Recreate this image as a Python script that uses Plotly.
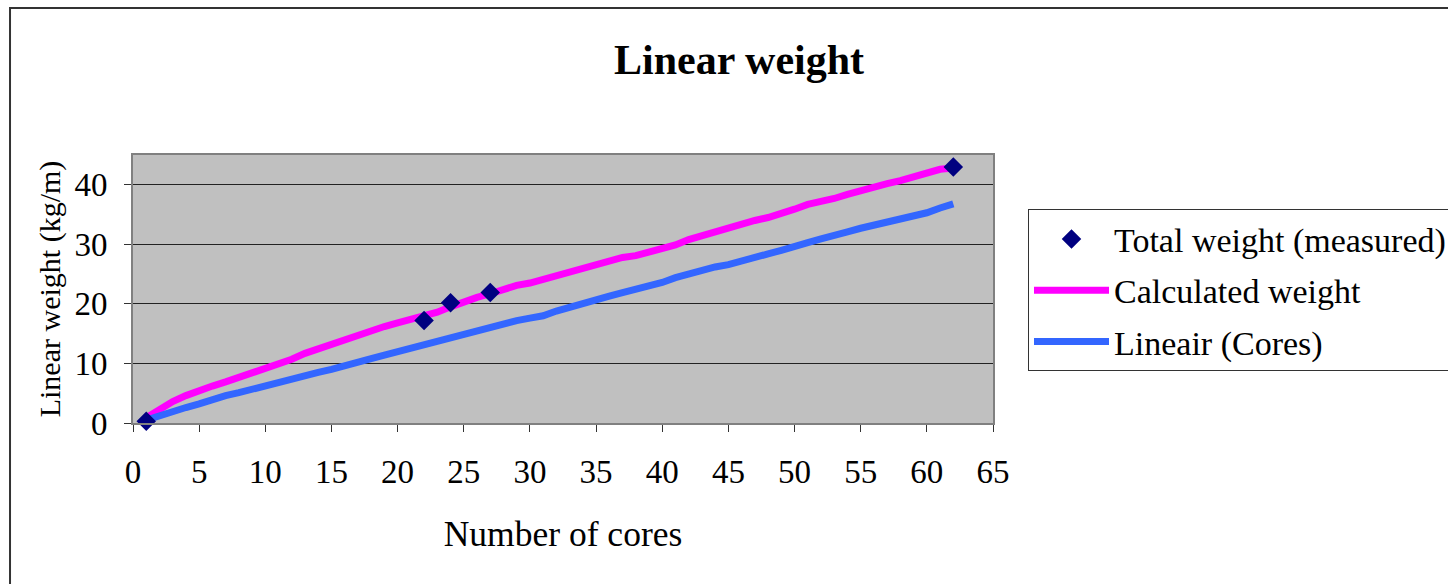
import plotly.graph_objects as go

# ---- data ----
cores = list(range(1, 63))
calculated_weight = [0.9, 2.3, 3.6, 4.6, 5.5, 6.2, 6.9, 7.6, 8.5, 9.3,
                     10.0, 10.7, 11.7, 12.5, 13.3, 14.0, 14.6, 15.5, 16.2, 16.8,
                     17.3, 17.8, 18.6, 19.5, 20.4, 21.1, 21.7, 22.5, 23.1, 23.5,
                     24.1, 24.9, 25.4, 26.1, 26.6, 27.4, 27.8, 28.1, 28.6, 29.2,
                     29.9, 30.8, 31.5, 32.0, 32.6, 33.3, 34.0, 34.5, 35.1, 35.9,
                     36.7, 37.1, 37.7, 38.4, 39.1, 39.6, 40.2, 40.7, 41.3, 42.0,
                     42.6, 42.8]
lineair_cores = [0.5, 1.3, 1.9, 2.6, 3.2, 4.0, 4.6, 5.1, 5.7, 6.1,
                 6.6, 7.5, 8.0, 8.5, 9.0, 9.5, 10.1, 10.8, 11.4, 12.0,
                 12.6, 13.1, 13.6, 14.2, 14.8, 15.5, 16.1, 16.7, 17.2, 17.6,
                 18.0, 18.8, 19.5, 20.0, 20.7, 21.3, 21.9, 22.4, 23.0, 23.6,
                 24.4, 25.1, 25.7, 26.2, 26.6, 27.1, 27.9, 28.4, 29.0, 29.8,
                 30.3, 30.9, 31.4, 32.1, 32.7, 33.2, 33.7, 34.2, 34.7, 35.3,
                 36.1, 36.8]
measured_cores = [1, 22, 24, 27, 62]
measured_weight = [0.3, 17.2, 20.2, 21.9, 43.0]

FONT = "Liberation Serif, Times New Roman, serif"

fig = go.Figure()
fig.add_trace(go.Scatter(
    x=cores, y=calculated_weight, mode="lines",
    name="Calculated weight", legendgroup="b", legendrank=2,
    line=dict(color="#FF00FF", width=7),
))
fig.add_trace(go.Scatter(
    x=cores, y=lineair_cores, mode="lines",
    name="Lineair (Cores)", legendgroup="c", legendrank=3,
    line=dict(color="#3366FF", width=7),
))
fig.add_trace(go.Scatter(
    x=measured_cores, y=measured_weight, mode="markers",
    name="Total weight (measured)", legendgroup="a", legendrank=1,
    marker=dict(symbol="diamond", size=15, color="#000080"),
    cliponaxis=False,
))

fig.update_layout(
    template="none",
    width=1448, height=584,
    margin=dict(l=133, r=455, t=155, b=161, autoexpand=False),
    paper_bgcolor="white",
    plot_bgcolor="#C0C0C0",
    font=dict(family=FONT, color="black", size=33),
    title=dict(text="<b>Linear weight</b>", font=dict(size=42, family=FONT),
               xref="container", yref="container",
               x=0.5104, xanchor="center", y=0.899, yanchor="middle"),
    showlegend=True,
    legend=dict(
        x=1.0407, y=0.797, xanchor="left", yanchor="top",
        bgcolor="white", bordercolor="#333333", borderwidth=1,
        font=dict(size=34, family=FONT),
        traceorder="grouped", tracegroupgap=4,
        itemwidth=75,
    ),
    xaxis=dict(
        range=[0, 65], dtick=5, tick0=0, automargin=False,
        showgrid=False, zeroline=False,
        showline=True, linecolor="#808080", linewidth=2, mirror=True,
        ticks="outside", ticklen=7, tickcolor="#333333", tickwidth=1,
        ticklabelstandoff=11,
        title=dict(text="Number of cores", font=dict(size=35.5), standoff=33),
    ),
    yaxis=dict(
        range=[0, 45], dtick=10, tick0=0, automargin=False,
        showgrid=True, gridcolor="#222222", gridwidth=1,
        zeroline=False,
        showline=True, linecolor="#808080", linewidth=2, mirror=True,
        ticks="outside", ticklen=7, tickcolor="#333333", tickwidth=1,
        ticklabelstandoff=10,
        title=dict(text="Linear weight (kg/m)", font=dict(size=30), standoff=5),
    ),
    shapes=[dict(
        type="rect", xref="paper", yref="paper",
        x0=-0.143, x1=1.56, y0=-0.68, y1=1.5485,
        line=dict(color="#333333", width=2), fillcolor="rgba(0,0,0,0)",
        layer="below",
    )],
)

fig.write_html("out.html")
